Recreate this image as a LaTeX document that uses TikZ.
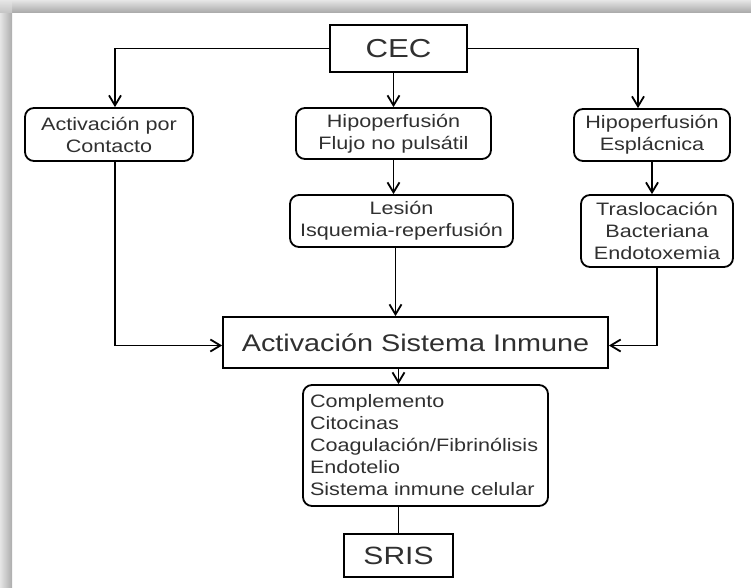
\documentclass[tikz,border=0pt]{standalone}
\usepackage{fontspec}
\setmainfont{Liberation Sans}[FakeStretch=1.2]
\usepackage{tikz}
\usetikzlibrary{calc,positioning,arrows.meta}
\definecolor{texto}{HTML}{303030}

\begin{document}
\begin{tikzpicture}[
x=1pt, y=-1pt,
caja/.style={
	draw, line width=1.8pt, rectangle,
	inner sep=0pt, text=texto, align=center,
	font=\fontsize{18}{22}\selectfont
},
redonda/.style={caja, rounded corners=9pt},
flecha/.style={line width=1.8pt, ->},
>={Straight Barb[length=10pt,width=12pt]}
]
\useasboundingbox (0,0) rectangle (751,587);
% sombra del marco
\shade[left color=gray!20, right color=gray!65] (0,0) rectangle (12,587);
\shade[top color=gray!20, bottom color=gray!65] (12,0) rectangle (751,12);
\shade[top color=gray!20, bottom color=gray!45] (0,0) rectangle (12,12);

\node[caja, minimum width=137pt, minimum height=47pt, font=\fontsize{26}{30}\selectfont] (cec) at (398.5,48.5) {CEC};
\node[redonda, minimum width=168pt, minimum height=53pt] (contacto) at (109,134.5) {Activación por\\Contacto};
\node[redonda, minimum width=195pt, minimum height=51pt] (flujo) at (393.5,133.5) {Hipoperfusión\\Flujo no pulsátil};
\node[redonda, minimum width=156pt, minimum height=52pt] (esplac) at (652,135) {Hipoperfusión\\Esplácnica};
\node[redonda, minimum width=223pt, minimum height=52pt] (lesion) at (401.5,221) {Lesión\\Isquemia-reperfusión};
\node[redonda, minimum width=152pt, minimum height=72pt] (trasloc) at (657,231) {Traslocación\\Bacteriana\\Endotoxemia};
\node[caja, minimum width=385pt, minimum height=51pt, font=\fontsize{24}{28}\selectfont] (asi) at (415.5,342.5) {Activación Sistema Inmune};
\node[redonda, minimum width=245pt, minimum height=121pt, align=left, text width=231pt, inner xsep=7pt] (lista) at (425.5,445.5) {Complemento\\Citocinas\\Coagulación/Fibrinólisis\\Endotelio\\Sistema inmune celular};
\node[caja, minimum width=109pt, minimum height=43pt, font=\fontsize{25}{29}\selectfont] (sris) at (398.5,555.5) {SRIS};

\draw[flecha] (cec.west) -| ([xshift=6pt]contacto.north);
\draw[flecha] (flujo.north |- cec.south) -- (flujo.north);
\draw[flecha] (cec.east) -| ([xshift=-14pt]esplac.north);
\draw[flecha] (flujo.south) -- (flujo.south |- lesion.north);
\draw[flecha] (esplac.south) -- (esplac.south |- trasloc.north);
\draw[flecha] ([xshift=6pt]contacto.south) |- ([yshift=-3pt]asi.west);
\draw[flecha] ([xshift=2pt]flujo.south |- lesion.south) -- ([xshift=2pt]flujo.south |- asi.north);
\draw[flecha] (trasloc.south) |- ([yshift=-3pt]asi.east);
\draw[flecha] (sris.north |- asi.south) -- (sris.north |- lista.north);
\draw[line width=1.8pt] (sris.north |- lista.south) -- (sris.north);
\end{tikzpicture}
\end{document}
